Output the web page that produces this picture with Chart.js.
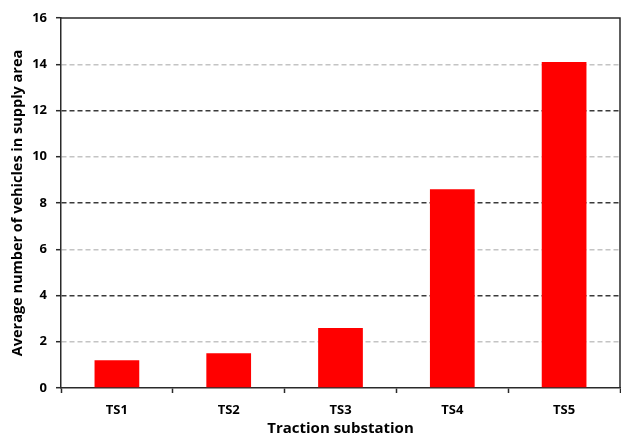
<!DOCTYPE html>
<html>
<head>
<meta charset="utf-8">
<script src="https://cdn.jsdelivr.net/npm/chart.js@4"></script>
<style>
  html, body { margin:0; padding:0; background:#fff; }
  #wrap { width:621px; height:436px; }
</style>
</head>
<body>
<div id="wrap"><canvas id="barChart" width="621" height="436"></canvas></div>
<script>
// chart data
const categories = ['TS1', 'TS2', 'TS3', 'TS4', 'TS5'];
const vehicles = [1.2, 1.5, 2.6, 8.6, 14.1];
const yTicks = [0, 2, 4, 6, 8, 10, 12, 14, 16];

(function(){
  const FONT = '"Open Sans", "Liberation Sans", sans-serif';
  const DARK = '#2a2a2a';

  // top + right frame of the plot area
  const framePlugin = {
    id: 'frame',
    afterDraw(chart){
      const {ctx, chartArea: a} = chart;
      ctx.save();
      ctx.strokeStyle = DARK;
      ctx.lineWidth = 1.5;
      ctx.beginPath();
      ctx.moveTo(a.left, a.top);
      ctx.lineTo(a.right, a.top);
      ctx.lineTo(a.right, a.bottom);
      ctx.stroke();
      ctx.restore();
    }
  };

  function gridColor(ctx){
    const v = ctx.tick ? ctx.tick.value : null;
    if(v === 0 || v === 16) return 'transparent';
    return (v / 2) % 2 === 0 ? '#3a3a3a' : '#c4c4c4';
  }

  new Chart(document.getElementById('barChart').getContext('2d'), {
    type: 'bar',
    data: {
      labels: categories,
      datasets: [{
        data: vehicles,
        backgroundColor: '#ff0000',
        borderWidth: 0,
        barPercentage: 0.4,
        categoryPercentage: 1.0
      }]
    },
    plugins: [framePlugin],
    options: {
      responsive: false,
      animation: false,
      layout: { padding: { top: 18, right: 1, left: 0, bottom: 0 } },
      plugins: { legend: { display: false }, tooltip: { enabled: false } },
      scales: {
        x: {
          grid: {
            offset: true,
            color: 'transparent',
            tickColor: DARK,
            tickLength: 5,
            tickWidth: 1.5
          },
          border: { color: DARK, width: 1.5 },
          ticks: {
            color: '#000',
            padding: 9,
            font: { family: FONT, size: 13, weight: 'bold' }
          },
          title: {
            display: true,
            text: 'Traction substation',
            color: '#000',
            padding: { top: 0, bottom: 0 },
            font: { family: FONT, size: 15, weight: 'bold', lineHeight: 1.0 }
          },
          afterFit(scale){ scale.height = 48; }
        },
        y: {
          min: 0,
          max: 16,
          afterBuildTicks(scale){ scale.ticks = yTicks.map(v => ({ value: v })); },
          grid: {
            color: gridColor,
            lineWidth: 1.4,
            tickColor: DARK,
            tickLength: 5,
            tickWidth: 1.5,
            tickBorderDash: []
          },
          border: { color: DARK, width: 1.5, dash: [5, 3] },
          ticks: {
            color: '#000',
            padding: 9,
            font: { family: FONT, size: 13, weight: 'bold' }
          },
          title: {
            display: true,
            text: 'Average number of vehicles in supply area',
            color: '#000',
            padding: { top: 9, bottom: 0 },
            font: { family: FONT, size: 14.5, weight: 'bold' }
          },
          afterFit(scale){ scale.width = 61; }
        }
      }
    }
  });
})();
</script>
</body>
</html>
